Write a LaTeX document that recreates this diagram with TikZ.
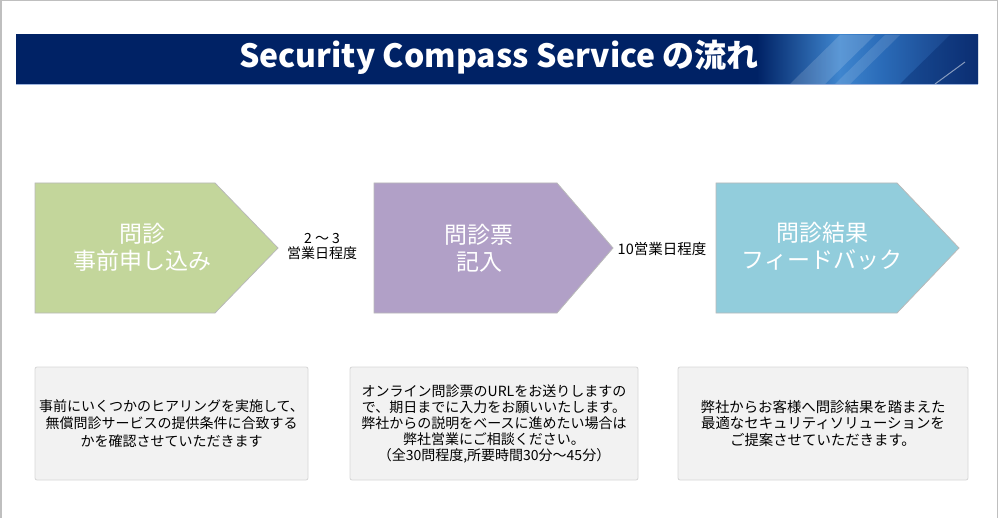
\documentclass[tikz,border=0pt]{standalone}
\usepackage{fontspec}
\setmainfont{Noto Sans CJK JP}
\definecolor{navy}{HTML}{002265}
\definecolor{bannerlight}{HTML}{3F86CF}
\definecolor{bannermid}{HTML}{2A6BB8}
\definecolor{bannerend}{HTML}{12357A}
\definecolor{stepgreen}{HTML}{C3D69B}
\definecolor{steppurple}{HTML}{B1A0C7}
\definecolor{stepblue}{HTML}{92CDDC}
\definecolor{boxfill}{HTML}{F2F2F2}
\definecolor{boxline}{HTML}{D6D6D6}
\definecolor{stripline}{HTML}{9DB4DE}
\pgfdeclarehorizontalshading{bannershade}{100bp}{color(0bp)=(navy); color(25bp)=(navy); color(63.5bp)=(navy); color(67.8bp)=(bannerlight); color(70bp)=(bannermid); color(75bp)=(bannerend); color(100bp)=(bannerend)}
\tikzset{
  stepshape/.style={draw=gray!55, line width=0.8pt},
  steptext/.style={text=white, align=center, font=\fontsize{23}{27}\selectfont},
  daylabel/.style={text=black, align=center, font=\fontsize{14}{15}\selectfont},
  descbox/.style={draw=boxline, fill=boxfill, rounded corners=2pt, line width=0.8pt, align=center, text=black, inner sep=0pt},
}
\begin{document}
\begin{tikzpicture}[x=1pt,y=-1pt]
\useasboundingbox (0,0) rectangle (1000,518);
% outer frame
\draw[gray!50, line width=1.5pt] (0.75,518) -- (0.75,0.75) -- (997.5,0.75) -- (997.5,518);
% banner
\shade[shading=bannershade] (16,35) rectangle (978,84);
\fill[white, opacity=0.15] (790,84) -- (840,35) -- (875,35) -- (825,84) -- cycle;
\fill[white, opacity=0.12] (835,84) -- (885,35) -- (900,35) -- (850,84) -- cycle;
\fill[navy, opacity=0.35] (900,84) -- (950,35) -- (978,35) -- (978,84) -- cycle;
\draw[white, opacity=0.5, line width=1pt] (935,84) -- (965,62);
\draw[stripline, line width=1.5pt] (16,84.5) -- (978,84.5);
\node[text=white, font=\bfseries\fontsize{32}{32}\selectfont, inner sep=0pt] (title) at (499,57) {Security Compass Service の流れ};
% steps
\path[stepshape, fill=stepgreen] (35,183) -- (215,183) -- (278,248) -- (215,313) -- (35,313) -- cycle;
\path[stepshape, fill=steppurple] (374,183) -- (557,183) -- (613,248) -- (557,313) -- (374,313) -- cycle;
\path[stepshape, fill=stepblue] (716,183) -- (897,183) -- (959,248) -- (897,313) -- (716,313) -- cycle;
\node[steptext] (s1) at (142,247) {問診\\事前申し込み};
\node[steptext] (s2) at (479,248) {問診票\\記入};
\node[steptext] (s3) at (822,246) {問診結果\\フィードバック};
% durations
\node[daylabel] (d1) at (322,246) {2 ～ 3\\営業日程度};
\node[daylabel, font=\fontsize{14.5}{15}\selectfont] (d2) at (662,249) {10営業日程度};
% description boxes
\node[descbox, minimum width=273pt, minimum height=113pt, font=\fontsize{14}{17.5}\selectfont] (b1) at (171.5,423.5) {事前にいくつかのヒアリングを実施して、\\無償問診サービスの提供条件に合致する\\かを確認させていただきます};
\node[descbox, minimum width=288pt, minimum height=113pt, font=\fontsize{14}{16}\selectfont] (b2) at (494,423.5) {オンライン問診票のURLをお送りしますの\\で、期日までに入力をお願いいたします。\\弊社からの説明をベースに進めたい場合は\\弊社営業にご相談ください。\\（全30問程度,所要時間30分～45分）};
\node[descbox, minimum width=290pt, minimum height=113pt, font=\fontsize{14.4}{16.5}\selectfont] (b3) at (823,423.5) {弊社からお客様へ問診結果を踏まえた\\最適なセキュリティソリューションを\\ご提案させていただきます。};
\end{tikzpicture}
\end{document}
